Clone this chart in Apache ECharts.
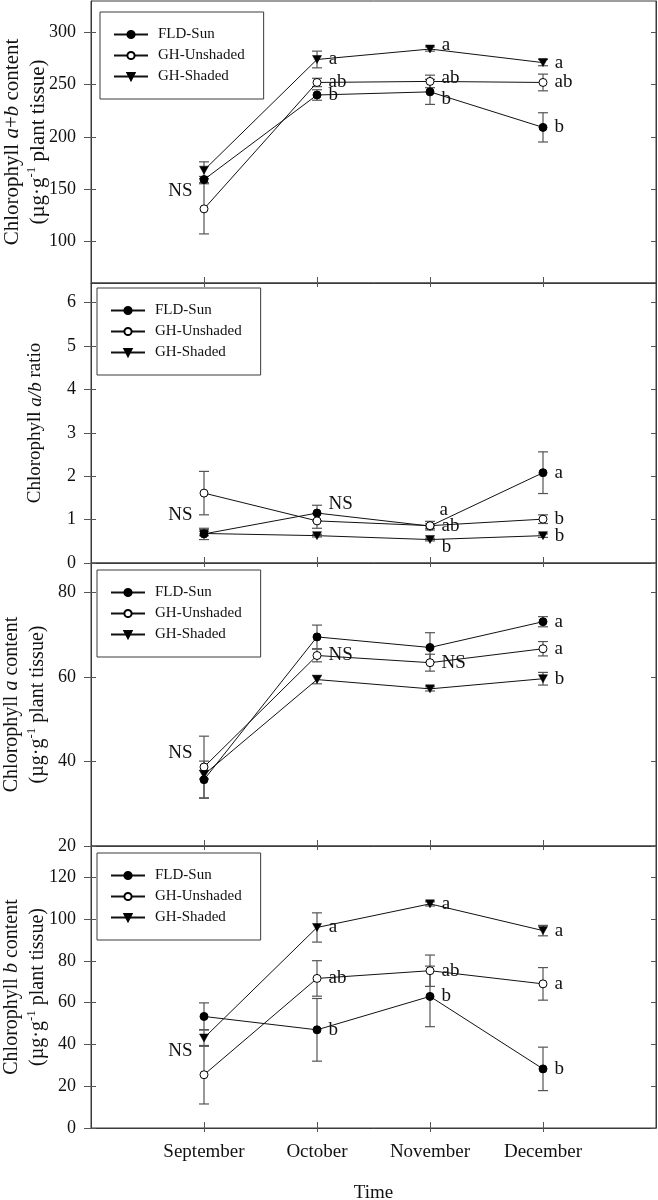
<!DOCTYPE html>
<html>
<head>
<meta charset="utf-8">
<script src="https://cdn.jsdelivr.net/npm/echarts@6/dist/echarts.min.js"></script>
<style>
html,body{margin:0;padding:0;background:#fff;}
#c{width:658px;height:1200px;}
</style>
</head>
<body>
<div id="c"></div>
<script>
// ---------- DATA ----------
const months = ['September', 'October', 'November', 'December'];
const monthPos = [1, 2, 3, 4];
const treatments = ['FLD-Sun', 'GH-Unshaded', 'GH-Shaded'];

// Panel 1: Chlorophyll a+b content
const abSun = [159, 240, 243, 209];
const abSunSE = [3, 5, 12, 14];
const abUnsh = [131, 252, 253, 252];
const abUnshSE = [24, 4, 6, 8];
const abShad = [168, 274, 284, 271];
const abShadSE = [8, 8, 2, 3];
const abSig = [['', 'b', 'b', 'b'], ['NS', 'ab', 'ab', 'ab'], ['', 'a', 'a', 'a']];
const abTicks = [100, 150, 200, 250, 300];

// Panel 2: Chlorophyll a/b ratio
const ratioSun = [0.67, 1.15, 0.85, 2.08];
const ratioSunSE = [0.13, 0.18, 0.05, 0.48];
const ratioUnsh = [1.61, 0.97, 0.86, 1.01];
const ratioUnshSE = [0.5, 0.17, 0.1, 0.1];
const ratioShad = [0.68, 0.63, 0.54, 0.63];
const ratioShadSE = [0.05, 0.03, 0.03, 0.04];
const ratioSig = [['', 'NS', 'a', 'a'], ['NS', '', 'ab', 'b'], ['', '', 'b', 'b']];
const ratioTicks = [0, 1, 2, 3, 4, 5, 6];

// Panel 3: Chlorophyll a content
const aSun = [35.7, 69.5, 67.0, 73.1];
const aSunSE = [4.4, 2.8, 3.5, 1.2];
const aUnsh = [38.7, 65.1, 63.4, 66.7];
const aUnshSE = [7.3, 1.5, 2.0, 1.7];
const aShad = [36.9, 59.4, 57.2, 59.6];
const aShadSE = [1.0, 1.0, 0.5, 1.5];
const aSig = [['', '', '', 'a'], ['NS', 'NS', 'NS', 'a'], ['', '', '', 'b']];
const aTicks = [20, 40, 60, 80];

// Panel 4: Chlorophyll b content
const bSun = [53.4, 47.0, 63.0, 28.3];
const bSunSE = [6.5, 15, 14.5, 10.4];
const bUnsh = [25.5, 71.6, 75.3, 69.0];
const bUnshSE = [14, 8.5, 7.5, 7.8];
const bShad = [43.1, 96.0, 107.3, 94.5];
const bShadSE = [4, 7, 1, 2.5];
const bSig = [['', 'b', 'b', 'b'], ['NS', 'ab', 'ab', 'a'], ['', 'a', 'a', 'a']];
const bTicks = [0, 20, 40, 60, 80, 100, 120];

// ---------- LAYOUT / STYLE ----------
const FONT = '"Liberation Serif", "Times New Roman", serif';
const AX = '#3a3a3a';
function richFor(fs, lh) {
  return {
    t: {fontSize: fs, fontFamily: FONT, color: '#111', lineHeight: lh},
    i: {fontSize: fs, fontFamily: FONT, color: '#111', fontStyle: 'italic', lineHeight: lh},
    s: {fontSize: 13, fontFamily: FONT, color: '#111', lineHeight: 15, verticalAlign: 'top'}
  };
}
const panels = [
  {vals: [abSun, abUnsh, abShad], se: [abSunSE, abUnshSE, abShadSE], sig: abSig, ticks: abTicks,
   min: 60, max: 330, top: 1, height: 282, legendTop: 12, legendLeft: 100, nameGap: 40, rich: richFor(21, 26),
   name: '{t|Chlorophyll }{i|a}{t|+}{i|b}{t| content}\n{t|(µg·g}{s|-1}{t| plant tissue)}'},
  {vals: [ratioSun, ratioUnsh, ratioShad], se: [ratioSunSE, ratioUnshSE, ratioShadSE], sig: ratioSig, ticks: ratioTicks,
   min: 0, max: 6.45, top: 283, height: 280, legendTop: 288, legendLeft: 97, nameGap: 43, rich: richFor(19, 25),
   name: '{t|Chlorophyll }{i|a/b}{t| ratio}'},
  {vals: [aSun, aUnsh, aShad], se: [aSunSE, aUnshSE, aShadSE], sig: aSig, ticks: aTicks,
   min: 20, max: 87, top: 563, height: 283, legendTop: 570, legendLeft: 97, nameGap: 40, rich: richFor(20, 26),
   name: '{t|Chlorophyll }{i|a}{t| content}\n{t|(µg·g}{s|-1}{t| plant tissue)}'},
  {vals: [bSun, bUnsh, bShad], se: [bSunSE, bUnshSE, bShadSE], sig: bSig, ticks: bTicks,
   min: 0, max: 135, top: 846, height: 282, legendTop: 853, legendLeft: 97, nameGap: 40, rich: richFor(20, 26),
   name: '{t|Chlorophyll }{i|b}{t| content}\n{t|(µg·g}{s|-1}{t| plant tissue)}'}
];
// label placement tweaks: key panel-series-month -> [position, dx, dy]
const labelTweak = {
  '0-1-0': ['left', 0, -18], '0-2-2': ['right', 0, -4], '0-1-2': ['right', 0, -3], '0-0-2': ['right', 0, 7],
  '1-0-1': ['right', 0, -9], '1-0-2': ['right', -2, -16], '1-1-0': ['left', 0, 22], '1-2-2': ['right', 0, 7],
  '2-1-0': ['left', 0, -14],
  '3-1-0': ['left', 0, -24]
};
const symbols = [
  {symbol: 'circle', size: 8, item: {color: '#000', borderColor: '#000', borderWidth: 1}},
  {symbol: 'circle', size: 8, item: {color: '#fff', borderColor: '#000', borderWidth: 1}},
  {symbol: 'path://M0,0 L10,0 L5,8 Z', size: [9, 8], item: {color: '#000', borderColor: '#000', borderWidth: 0.5}}
];

const grids = [], xAxes = [], yAxes = [], series = [], legends = [];
panels.forEach((p, pi) => {
  grids.push({left: 91, right: 2, top: p.top, height: p.height, show: true, borderColor: AX, borderWidth: 1,
    backgroundColor: 'transparent', containLabel: false, outerBoundsMode: 'none'});
  const isLast = pi === panels.length - 1;
  xAxes.push({
    gridIndex: pi, type: 'value', min: 0, max: 5, position: 'bottom',
    axisLine: {show: true, lineStyle: {color: AX, width: 1}},
    axisTick: {show: true, customValues: monthPos, length: 4, inside: false, lineStyle: {color: '#555'}},
    axisLabel: {show: isLast, customValues: monthPos, margin: 15, fontSize: 19, fontFamily: FONT, color: '#111',
      formatter: v => months[v - 1] || ''},
    splitLine: {show: false},
    name: isLast ? 'Time' : '', nameLocation: 'middle', nameGap: 56, nameMoveOverlap: false,
    nameTextStyle: {fontSize: 19, fontFamily: FONT, color: '#111'}
  });
  yAxes.push({
    gridIndex: pi, type: 'value', min: p.min, max: p.max, position: 'left',
    axisLine: {show: true, lineStyle: {color: AX, width: 1}},
    axisTick: {show: true, customValues: p.ticks, length: 7, inside: false, lineStyle: {color: '#555'}},
    axisLabel: {show: true, customValues: p.ticks, margin: 15, fontSize: 18, fontFamily: FONT, color: '#111'},
    splitLine: {show: false},
    name: p.name, nameLocation: 'middle', nameGap: p.nameGap, nameRotate: 90, nameMoveOverlap: false,
    nameTextStyle: {rich: p.rich, align: 'center'}
  });
});
panels.forEach((p, pi) => {
  xAxes.push({
    gridIndex: pi, type: 'value', min: 0, max: 5, position: 'bottom',
    axisLine: {show: false}, axisLabel: {show: false}, splitLine: {show: false},
    axisTick: {show: true, customValues: monthPos, length: 6, inside: true, lineStyle: {color: '#555'}}
  });
  yAxes.push({
    gridIndex: pi, type: 'value', min: p.min, max: p.max, position: 'left',
    axisLine: {show: false}, axisLabel: {show: false}, splitLine: {show: false},
    axisTick: {show: true, customValues: p.ticks, length: 5, inside: true, lineStyle: {color: '#555'}}
  });
});
panels.forEach((p, pi) => {
  yAxes.push({
    gridIndex: pi, type: 'value', min: p.min, max: p.max, position: 'right',
    axisLine: {show: true, lineStyle: {color: AX, width: 1}}, axisLabel: {show: false}, splitLine: {show: false},
    axisTick: {show: true, customValues: p.ticks, length: 5, inside: true, lineStyle: {color: '#555'}}
  });
});

function errRender(params, api) {
  const x = api.value(0), lo = api.value(1), hi = api.value(2);
  const t = api.coord([x, hi]), b = api.coord([x, lo]);
  const hw = 5;
  const st = {stroke: '#555', lineWidth: 1.2, fill: null};
  return {type: 'group', children: [
    {type: 'line', shape: {x1: t[0], y1: t[1], x2: b[0], y2: b[1]}, style: st},
    {type: 'line', shape: {x1: t[0] - hw, y1: t[1], x2: t[0] + hw, y2: t[1]}, style: st},
    {type: 'line', shape: {x1: b[0] - hw, y1: b[1], x2: b[0] + hw, y2: b[1]}, style: st}
  ]};
}

panels.forEach((p, pi) => {
  p.vals.forEach((vals, si) => {
    const se = p.se[si];
    series.push({
      type: 'custom', name: 'err-' + pi + '-' + si, xAxisIndex: pi, yAxisIndex: pi,
      renderItem: errRender, z: 2, silent: true,
      encode: {x: 0, y: [1, 2]},
      data: vals.map((v, k) => [monthPos[k], v - se[k], v + se[k]])
    });
  });
});
panels.forEach((p, pi) => {
  p.vals.forEach((vals, si) => {
    const sym = symbols[si];
    series.push({
      type: 'line', name: treatments[si], xAxisIndex: pi, yAxisIndex: pi, z: 5,
      symbol: sym.symbol, symbolSize: sym.size, showSymbol: true,
      lineStyle: {color: '#111', width: 1},
      itemStyle: sym.item,
      emphasis: {disabled: true},
      data: vals.map((v, k) => {
        const txt = p.sig[si][k];
        const tw = labelTweak[pi + '-' + si + '-' + k] || ['right', 0, 0];
        return {
          value: [monthPos[k], v],
          label: {show: !!txt, formatter: txt, position: tw[0], distance: 7, offset: [tw[1], tw[2]],
            fontSize: 19, fontFamily: FONT, color: '#111'}
        };
      })
    });
  });
  legends.push({
    data: treatments, orient: 'vertical', left: p.legendLeft, top: p.legendTop,
    itemWidth: 34, itemHeight: 9, itemGap: 6, padding: [15, 19, 15, 13],
    borderColor: AX, borderWidth: 1, backgroundColor: '#fff',
    textStyle: {fontSize: 15, fontFamily: FONT, color: '#111', padding: [0, 0, 0, 5]},
    selectedMode: false
  });
});

const chart = echarts.init(document.getElementById('c'), null, {renderer: 'canvas'});
chart.setOption({
  animation: false,
  backgroundColor: '#fff',
  grid: grids, xAxis: xAxes, yAxis: yAxes, legend: legends, series: series
});
</script>
</body>
</html>
